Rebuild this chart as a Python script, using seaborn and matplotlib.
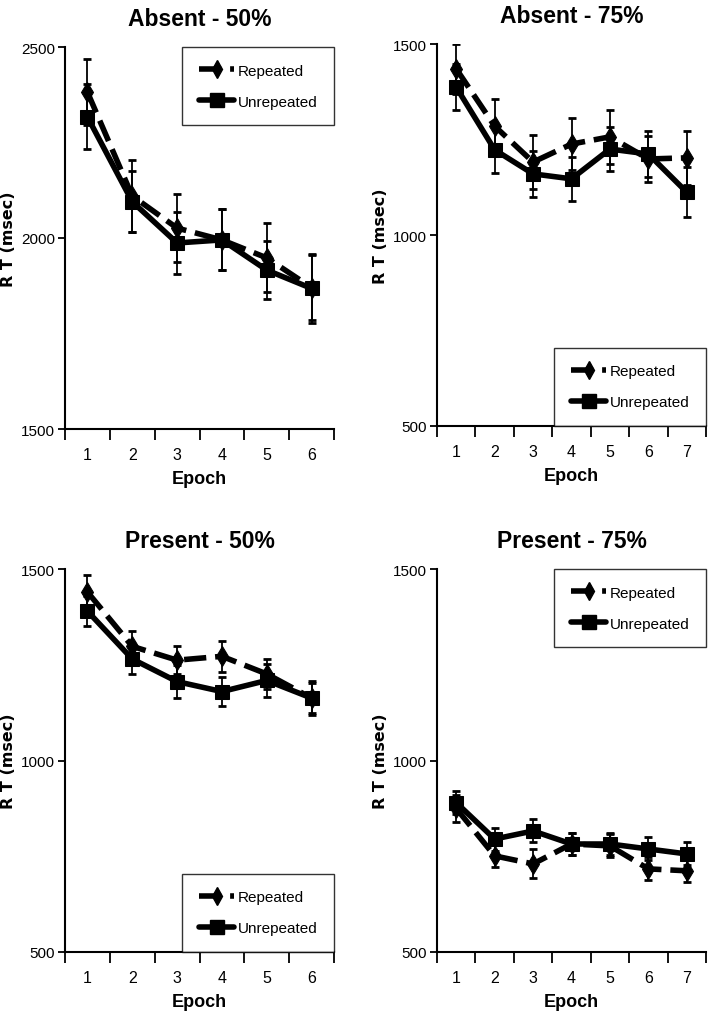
import numpy as np
import pandas as pd
import matplotlib.pyplot as plt
from matplotlib.lines import Line2D
from matplotlib.ticker import FixedLocator
import seaborn as sns

# panel titles and y ranges
titles = ['Absent - 50%', 'Absent - 75%', 'Present - 50%', 'Present - 75%']
ylims = [(1500, 2500), (500, 1500), (500, 1500), (500, 1500)]
yticks = [[1500, 2000, 2500], [500, 1000, 1500], [500, 1000, 1500], [500, 1000, 1500]]
legend_loc = ['upper right', 'lower right', 'lower right', 'upper right']

# mean RT per epoch
rep_a50 = [2382, 2110, 2026, 1995, 1948, 1870]
unrep_a50 = [2317, 2095, 1987, 1995, 1916, 1868]
rep_a75 = [1435, 1285, 1191, 1238, 1257, 1199, 1202]
unrep_a75 = [1387, 1223, 1160, 1147, 1225, 1212, 1112]
rep_p50 = [1440, 1298, 1262, 1272, 1226, 1163]
unrep_p50 = [1390, 1265, 1206, 1180, 1209, 1163]
rep_p75 = [875, 751, 730, 782, 777, 717, 712]
unrep_p75 = [890, 795, 816, 782, 782, 769, 756]

# standard errors
se_rep_a50 = [87, 95, 90, 80, 90, 85]
se_unrep_a50 = [85, 80, 80, 80, 75, 90]
se_rep_a75 = [65, 70, 70, 68, 70, 60, 70]
se_unrep_a75 = [60, 60, 60, 58, 57, 60, 65]
se_rep_p50 = [45, 40, 37, 40, 40, 40]
se_unrep_p50 = [40, 40, 43, 38, 43, 44]
se_rep_p75 = [35, 30, 38, 30, 30, 30, 30]
se_unrep_p75 = [30, 30, 30, 30, 30, 30, 30]

rep = [rep_a50, rep_a75, rep_p50, rep_p75]
unrep = [unrep_a50, unrep_a75, unrep_p50, unrep_p75]
se_rep = [se_rep_a50, se_rep_a75, se_rep_p50, se_rep_p75]
se_unrep = [se_unrep_a50, se_unrep_a75, se_unrep_p50, se_unrep_p75]

sns.set_theme(style='ticks')
plt.rcParams['font.family'] = ['Liberation Sans', 'DejaVu Sans']
plt.rcParams['text.color'] = 'black'
plt.rcParams['axes.labelcolor'] = 'black'
plt.rcParams['xtick.color'] = 'black'
plt.rcParams['ytick.color'] = 'black'

fig = plt.figure(figsize=(7.08, 10.2), dpi=100)
W, H = 708, 1020
boxes = [(65, 48, 334, 430), (437, 45, 706, 427), (65, 570, 334, 953), (437, 570, 706, 953)]

lw = 4
dash = (4, 1.6)

for i in range(4):
    x0, y0, x1, y1 = boxes[i]
    ax = fig.add_axes([x0 / W, 1 - y1 / H, (x1 - x0) / W, (y1 - y0) / H])
    n = len(rep[i])
    epochs = np.arange(1, n + 1)
    df = pd.DataFrame({
        'Epoch': np.concatenate([epochs, epochs]),
        'RT': np.concatenate([rep[i], unrep[i]]),
        'Condition': ['Repeated'] * n + ['Unrepeated'] * n,
    })
    ax.errorbar(epochs, rep[i], yerr=se_rep[i], fmt='none', ecolor='black',
                elinewidth=1.3, capsize=3, capthick=2, zorder=1)
    ax.errorbar(epochs, unrep[i], yerr=se_unrep[i], fmt='none', ecolor='black',
                elinewidth=1.3, capsize=3, capthick=2, zorder=1)
    sns.lineplot(data=df, x='Epoch', y='RT', style='Condition', ax=ax,
                 markers={'Repeated': 'd', 'Unrepeated': 's'},
                 dashes={'Repeated': dash, 'Unrepeated': ''},
                 color='black', lw=lw, markersize=10, markeredgecolor='black',
                 legend=False, zorder=3)

    ax.set_xlim(0.5, n + 0.5)
    ax.set_ylim(*ylims[i])
    ax.set_yticks(yticks[i])
    ax.set_xticks(epochs)
    ax.xaxis.set_minor_locator(FixedLocator(np.arange(0.5, n + 1, 1)))
    ax.tick_params(axis='x', which='major', length=0, pad=13, labelsize=11.5)
    ax.tick_params(axis='x', which='minor', length=8, width=1.3, direction='out', color='black')
    ax.tick_params(axis='y', length=5, width=1.3, color='black', labelsize=11, pad=2)
    for s in ['top', 'right']:
        ax.spines[s].set_visible(False)
    for s in ['left', 'bottom']:
        ax.spines[s].set_color('black')
        ax.spines[s].set_linewidth(1.5)
    ax.set_xlabel('Epoch', fontsize=13, fontweight='bold', labelpad=6)
    ax.set_ylabel('R T (msec)', fontsize=11.5, fontweight='bold',
                  family=['DejaVu Sans'], labelpad=4)
    ax.set_title(titles[i], fontsize=16.5, fontweight='bold', pad=16)

    handles = [
        Line2D([], [], color='black', lw=lw, dashes=dash, marker='d', markersize=9),
        Line2D([], [], color='black', lw=lw, marker='s', markersize=10),
    ]
    leg = ax.legend(handles, ['Repeated', 'Unrepeated'], loc=legend_loc[i],
                    borderaxespad=0, frameon=True, fancybox=False, fontsize=11,
                    handlelength=2.3, handletextpad=0.2, borderpad=1.1, labelspacing=1.1)
    leg.get_frame().set_edgecolor('black')
    leg.get_frame().set_linewidth(1.0)

fig.savefig('out.png', dpi=100)
